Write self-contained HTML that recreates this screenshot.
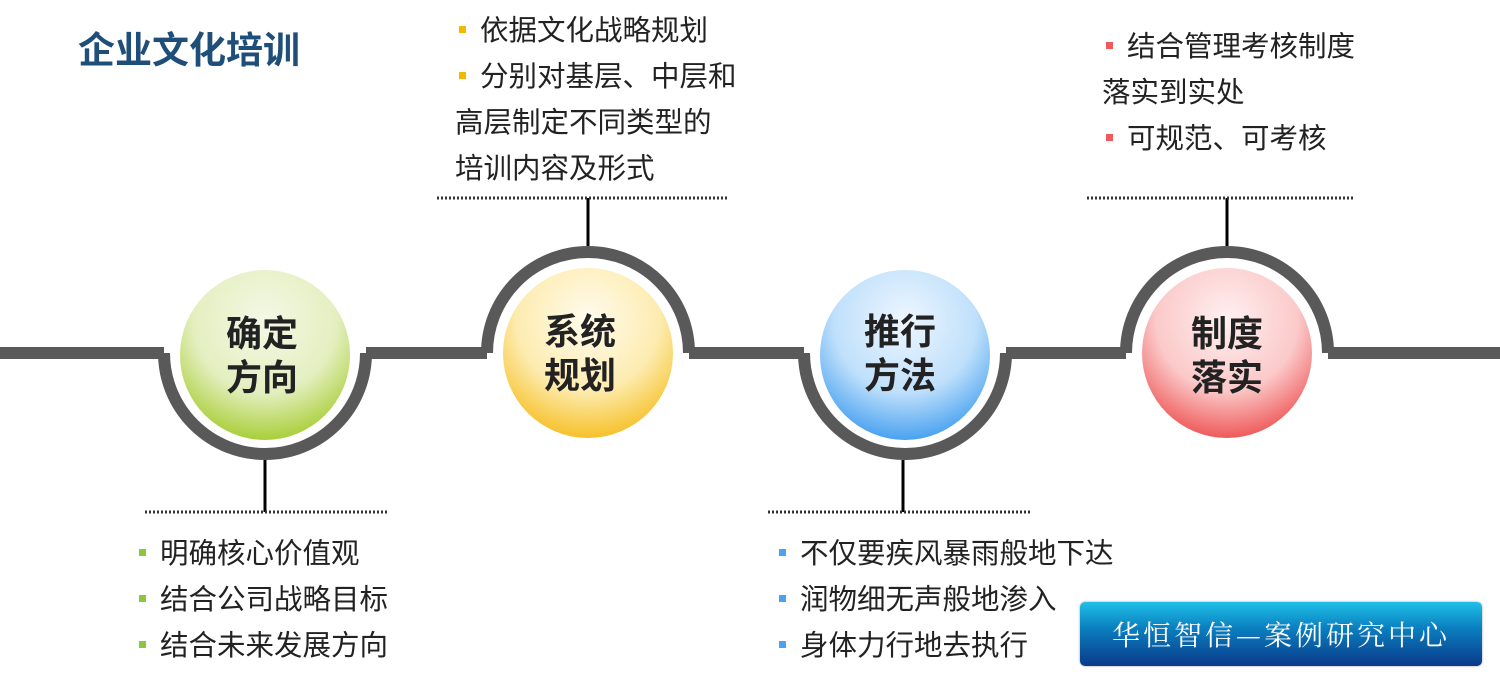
<!DOCTYPE html>
<html><head><meta charset="utf-8"><style>
body{margin:0;width:1500px;height:680px;background:#fff;position:relative;overflow:hidden;font-family:"Liberation Sans","Noto Sans CJK SC",sans-serif;}
.t{position:absolute;font-size:28.5px;color:#222;line-height:46px;white-space:nowrap}
.b{display:inline-block;width:7px;height:7px;margin:0 14px 0 4px;vertical-align:middle;position:relative;top:-3px}
.title{position:absolute;left:78px;top:20px;font-size:37px;font-weight:bold;color:#1f4e79}
.lbl{position:absolute;font-size:36px;font-weight:bold;color:#222;text-align:center;line-height:44px;width:170px}
.logo{position:absolute;left:1080px;top:602px;width:402px;height:64px;border-radius:5px;background:linear-gradient(#20c0e8,#0a80c0 40%,#0a3a8a);color:#fff;font-family:"Noto Serif CJK SC",serif;font-size:28px;line-height:64px;text-align:center;letter-spacing:3px;box-shadow:0 0 2px #999}
</style></head><body>
<svg width="1500" height="680" style="position:absolute;left:0;top:0">
<defs>
<radialGradient id="g1" cx="50%" cy="30%" r="70%"><stop offset="0" stop-color="#f4f8e6"/><stop offset="0.6" stop-color="#e4efc0"/><stop offset="1" stop-color="#a9cf3a"/></radialGradient>
<radialGradient id="g2" cx="50%" cy="30%" r="70%"><stop offset="0" stop-color="#fffbee"/><stop offset="0.6" stop-color="#fdecb0"/><stop offset="1" stop-color="#f6c12a"/></radialGradient>
<radialGradient id="g3" cx="50%" cy="30%" r="70%"><stop offset="0" stop-color="#eef6ff"/><stop offset="0.6" stop-color="#bfe0fb"/><stop offset="1" stop-color="#4aa2f0"/></radialGradient>
<radialGradient id="g4" cx="50%" cy="30%" r="70%"><stop offset="0" stop-color="#fff0f0"/><stop offset="0.6" stop-color="#fbc9c9"/><stop offset="1" stop-color="#ef5a5a"/></radialGradient>
</defs>
<g stroke="#595959" stroke-width="12" fill="none">
<line x1="0" y1="353" x2="164" y2="353"/>
<path d="M164 353 A101 101 0 0 0 366 353"/>
<line x1="366" y1="353" x2="487" y2="353"/>
<path d="M487 353 A101 101 0 0 1 689 353"/>
<line x1="689" y1="353" x2="804" y2="353"/>
<path d="M804 353 A101 101 0 0 0 1006 353"/>
<line x1="1006" y1="353" x2="1126" y2="353"/>
<path d="M1126 353 A101 101 0 0 1 1328 353"/>
<line x1="1328" y1="353" x2="1500" y2="353"/>
</g>
<circle cx="265" cy="355" r="85" fill="url(#g1)"/>
<circle cx="588" cy="353" r="85" fill="url(#g2)"/>
<circle cx="905" cy="355" r="85" fill="url(#g3)"/>
<circle cx="1227" cy="353" r="85" fill="url(#g4)"/>
<g stroke="#000" stroke-width="3">
<line x1="265" y1="460" x2="265" y2="512"/>
<line x1="588" y1="198" x2="588" y2="246"/>
<line x1="903" y1="460" x2="903" y2="512"/>
<line x1="1227" y1="198" x2="1227" y2="246"/>
</g>
<g stroke="#333" stroke-width="3" stroke-dasharray="2 2">
<line x1="145" y1="512" x2="387" y2="512"/>
<line x1="437" y1="198" x2="727" y2="198"/>
<line x1="768" y1="512" x2="1030" y2="512"/>
<line x1="1087" y1="198" x2="1355" y2="198"/>
</g>
</svg>
<div class="title">企业文化培训</div>
<div class="lbl" style="left:177px;top:312px">确定<br>方向</div>
<div class="lbl" style="left:495px;top:310px">系统<br>规划</div>
<div class="lbl" style="left:815px;top:310px">推行<br>方法</div>
<div class="lbl" style="left:1142px;top:312px">制度<br>落实</div>
<div class="t" style="left:455px;top:8px"><span class="b" style="background:#f5b800"></span>依据文化战略规划<br><span class="b" style="background:#f5b800"></span>分别对基层、中层和<br>高层制定不同类型的<br>培训内容及形式</div>
<div class="t" style="left:1102px;top:24px"><span class="b" style="background:#f05a5a"></span>结合管理考核制度<br>落实到实处<br><span class="b" style="background:#f05a5a"></span>可规范、可考核</div>
<div class="t" style="left:135px;top:531px"><span class="b" style="background:#8cc63f"></span>明确核心价值观<br><span class="b" style="background:#8cc63f"></span>结合公司战略目标<br><span class="b" style="background:#8cc63f"></span>结合未来发展方向</div>
<div class="t" style="left:775px;top:531px"><span class="b" style="background:#4aa2f0"></span>不仅要疾风暴雨般地下达<br><span class="b" style="background:#4aa2f0"></span>润物细无声般地渗入<br><span class="b" style="background:#4aa2f0"></span>身体力行地去执行</div>
<div class="logo">华恒智信—案例研究中心</div>
</body></html>
